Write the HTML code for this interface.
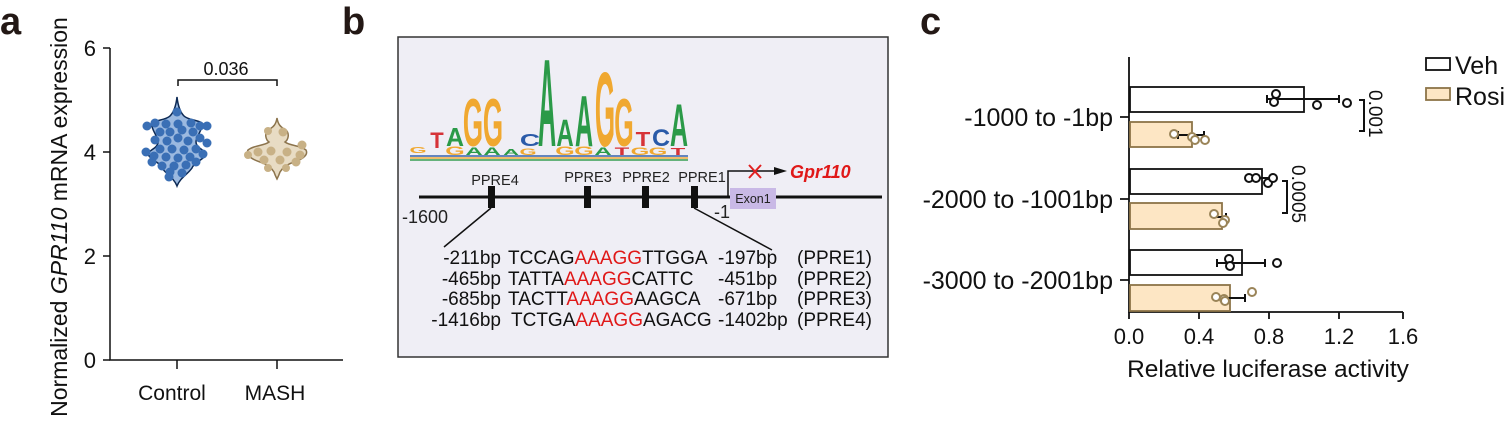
<!DOCTYPE html>
<html><head><meta charset="utf-8"><style>
html,body{margin:0;padding:0;background:#fff;}
svg{display:block;font-family:"Liberation Sans",Arial,sans-serif;}
</style></head><body>
<svg width="1504" height="434" viewBox="0 0 1504 434" xmlns="http://www.w3.org/2000/svg">
<!-- Panel labels -->
<text x="0" y="34" font-size="38" font-weight="bold" fill="#231815">a</text>
<text x="342" y="34" font-size="38" font-weight="bold" fill="#231815">b</text>
<text x="920" y="34" font-size="38" font-weight="bold" fill="#231815">c</text>

<!-- Panel a -->
<text transform="translate(67,217) rotate(-90)" text-anchor="middle" font-size="23" fill="#111">Normalized <tspan font-style="italic">GPR110</tspan> mRNA expression</text>
<g stroke="#111" stroke-width="1.5" fill="none">
<path d="M110,48 V360 H343"/>
<path d="M103,48 H110 M103,152 H110 M103,256 H110 M103,360 H110"/>
<path d="M177,360 V369 M277,360 V369"/>
<path d="M178,86 V80 H277 V86"/>
</g>
<g font-size="22" fill="#111" text-anchor="end">
<text x="96" y="56">6</text><text x="96" y="160">4</text><text x="96" y="264">2</text><text x="96" y="368">0</text>
</g>
<text x="226" y="75" font-size="18" text-anchor="middle" fill="#111">0.036</text>
<text x="172" y="400" font-size="21" text-anchor="middle" fill="#111">Control</text>
<text x="275" y="400" font-size="21" text-anchor="middle" fill="#111">MASH</text>
<!-- Control violin -->
<path d="M177,97 C178,106 180,112 184,116 C188,120 198,120 202,123 C203,130 196,136 196,142 C196,148 205,150 206,154 C204,160 194,162 192,168 C188,174 180,178 177,186 C174,178 166,174 162,168 C160,162 150,160 148,154 C149,150 158,148 158,142 C158,136 151,130 152,123 C156,120 166,120 170,116 C174,112 176,106 177,97Z" fill="#9bb9e0" stroke="#0d2a55" stroke-width="1.5"/>
<g fill="#3a6fb5">
<circle cx="177" cy="112" r="4.5"/><circle cx="147" cy="126" r="4.5"/><circle cx="207" cy="126" r="4.5"/>
<circle cx="155" cy="123" r="4.5"/><circle cx="166" cy="124" r="4.5"/><circle cx="178" cy="124" r="4.5"/><circle cx="191" cy="123" r="4.5"/><circle cx="200" cy="126" r="4.5"/>
<circle cx="160" cy="132" r="4.5"/><circle cx="170" cy="132" r="4.5"/><circle cx="182" cy="130" r="4.5"/><circle cx="193" cy="132" r="4.5"/>
<circle cx="155" cy="140" r="4.5"/><circle cx="167" cy="141" r="4.5"/><circle cx="178" cy="138" r="4.5"/><circle cx="188" cy="141" r="4.5"/><circle cx="200" cy="138" r="4.5"/><circle cx="207" cy="143" r="4.5"/>
<circle cx="160" cy="149" r="4.5"/><circle cx="172" cy="149" r="4.5"/><circle cx="184" cy="150" r="4.5"/><circle cx="196" cy="149" r="4.5"/>
<circle cx="146" cy="152" r="4.5"/><circle cx="154" cy="156" r="4.5"/><circle cx="166" cy="157" r="4.5"/><circle cx="178" cy="158" r="4.5"/><circle cx="190" cy="157" r="4.5"/><circle cx="203" cy="154" r="4.5"/>
<circle cx="152" cy="162" r="4.5"/><circle cx="162" cy="166" r="4.5"/><circle cx="174" cy="166" r="4.5"/><circle cx="186" cy="165" r="4.5"/><circle cx="196" cy="162" r="4.5"/>
<circle cx="170" cy="172" r="4.5"/><circle cx="182" cy="173" r="4.5"/><circle cx="169" cy="177" r="4.5"/>
</g>
<!-- MASH violin -->
<path d="M277,118 C278,124 280,127 286,130 C290,134 288,140 285,142 C290,146 300,145 306,150 C309,156 300,160 294,162 C288,164 283,167 280,172 C279,175 278,177 277,179 C276,177 275,175 274,172 C271,167 266,164 260,162 C254,160 245,156 248,150 C254,145 264,146 269,142 C266,140 264,134 268,130 C274,127 276,124 277,118Z" fill="#e8dcc4" stroke="#8c744d" stroke-width="1.5"/>
<g fill="#c8b186">
<circle cx="283" cy="132" r="4.5"/><circle cx="268" cy="131" r="4"/><circle cx="302" cy="145" r="4.5"/>
<circle cx="258" cy="152" r="4.5"/><circle cx="271" cy="151" r="4.5"/><circle cx="287" cy="152" r="4.5"/><circle cx="300" cy="155" r="4.5"/>
<circle cx="264" cy="160" r="4.5"/><circle cx="280" cy="160" r="4.5"/><circle cx="296" cy="162" r="4.5"/><circle cx="248" cy="155" r="4"/>
<circle cx="268" cy="168" r="4"/><circle cx="286" cy="168" r="4"/>
</g>

<!-- Panel b -->
<rect x="398" y="37" width="490" height="320" fill="#efeef5" stroke="#333" stroke-width="1.5"/>
<!-- sequence logo -->
<g font-weight="bold" text-anchor="middle">
<text transform="translate(437,148) scale(1.1,1.1)" font-size="20" fill="#d63338">T</text>
<text transform="translate(455,146) scale(1.25,1.3)" font-size="20" fill="#2b9a48">A</text>
<text transform="translate(473,146) scale(1.3,3.4)" font-size="20" fill="#f0a830">G</text>
<text transform="translate(493,146) scale(1.3,3.4)" font-size="20" fill="#f0a830">G</text>
<text transform="translate(530,146) scale(1.4,0.9)" font-size="20" fill="#2a5aa8">C</text>
<text transform="translate(547,146) scale(1.25,6.2)" font-size="20" fill="#2b9a48">A</text>
<text transform="translate(565,146) scale(1.2,1.9)" font-size="20" fill="#2b9a48">A</text>
<text transform="translate(584,146) scale(1.25,3.6)" font-size="20" fill="#2b9a48">A</text>
<text transform="translate(605,146) scale(1.3,5.3)" font-size="20" fill="#f0a830">G</text>
<text transform="translate(624,146) scale(1.25,3.4)" font-size="20" fill="#f0a830">G</text>
<text transform="translate(643,146) scale(1.2,1.0)" font-size="20" fill="#d63338">T</text>
<text transform="translate(661,146) scale(1.25,1.2)" font-size="20" fill="#2a5aa8">C</text>
<text transform="translate(679,146) scale(1.25,3.0)" font-size="20" fill="#2b9a48">A</text>
</g>
<g font-weight="bold" text-anchor="middle" font-size="20">
<text transform="translate(418,153) scale(1.1,0.4)" fill="#f0a830">G</text>
<text transform="translate(455,155) scale(1.25,0.6)" fill="#f0a830">G</text>
<text transform="translate(474,155) scale(1.2,0.55)" fill="#2b9a48">A</text>
<text transform="translate(492,155) scale(1.2,0.55)" fill="#2b9a48">A</text>
<text transform="translate(511,155) scale(1.1,0.4)" fill="#2b9a48">A</text>
<text transform="translate(528,155) scale(1.1,0.45)" fill="#f0a830">G</text>
<text transform="translate(565,155) scale(1.25,0.6)" fill="#f0a830">G</text>
<text transform="translate(584,155) scale(1.25,0.6)" fill="#f0a830">G</text>
<text transform="translate(603,155) scale(1.2,0.55)" fill="#2b9a48">A</text>
<text transform="translate(622,155) scale(1.2,0.55)" fill="#d63338">T</text>
<text transform="translate(640,155) scale(1.2,0.55)" fill="#f0a830">G</text>
<text transform="translate(658,155) scale(1.2,0.55)" fill="#f0a830">G</text>
<text transform="translate(678,155) scale(1.2,0.5)" fill="#d63338">T</text>
</g>
<g opacity="0.7">
<rect x="410" y="155" width="278" height="2" fill="#2a5aa8"/>
<rect x="410" y="157" width="278" height="2" fill="#f0a830"/>
<rect x="410" y="159" width="278" height="2" fill="#2b9a48"/>
</g>
<!-- gene line -->
<line x1="419" y1="197" x2="882" y2="197" stroke="#111" stroke-width="3"/>
<g fill="#111">
<rect x="488" y="186" width="7" height="22"/><rect x="584" y="186" width="7" height="22"/>
<rect x="642" y="186" width="7" height="22"/><rect x="691" y="186" width="7" height="22"/>
</g>
<g font-size="14.5" fill="#222" text-anchor="middle">
<text x="495" y="185">PPRE4</text><text x="588" y="182">PPRE3</text><text x="646" y="182">PPRE2</text><text x="702" y="182">PPRE1</text>
</g>
<rect x="730" y="188" width="46" height="21" fill="#c9b9e6"/>
<text x="753" y="203" font-size="12.5" text-anchor="middle" fill="#222">Exon1</text>
<path d="M728,197 V171 H775" stroke="#111" stroke-width="1.5" fill="none"/>
<path d="M787,171 L774,167 L774,175Z" fill="#111"/>
<path d="M749,165 L761,178 M761,165 L749,178" stroke="#e02020" stroke-width="2"/>
<text x="790" y="178" font-size="18" font-weight="bold" font-style="italic" fill="#e01818">Gpr110</text>
<text x="402" y="223" font-size="18" fill="#222">-1600</text>
<text x="714" y="218" font-size="18" fill="#222">-1</text>
<path d="M491,208 L444,247 M694,208 L772,250" stroke="#111" stroke-width="1.5"/>
<g font-size="19" fill="#111">
<text x="501" y="264" text-anchor="end">-211bp</text>
<text x="508" y="264">TCCAG<tspan fill="#e01818">AAAGG</tspan>TTGGA</text>
<text x="718" y="264">-197bp</text><text x="797" y="264">(PPRE1)</text>
<text x="501" y="285" text-anchor="end">-465bp</text>
<text x="508" y="285">TATTA<tspan fill="#e01818">AAAGG</tspan>CATTC</text>
<text x="718" y="285">-451bp</text><text x="797" y="285">(PPRE2)</text>
<text x="501" y="305" text-anchor="end">-685bp</text>
<text x="508" y="305">TACTT<tspan fill="#e01818">AAAGG</tspan>AAGCA</text>
<text x="718" y="305">-671bp</text><text x="797" y="305">(PPRE3)</text>
<text x="501" y="326" text-anchor="end">-1416bp</text>
<text x="511" y="326">TCTGA<tspan fill="#e01818">AAAGG</tspan>AGACG</text>
<text x="718" y="326">-1402bp</text><text x="797" y="326">(PPRE4)</text>
</g>

<!-- Panel c -->
<g stroke="#111" stroke-width="1.8" fill="none">
<path d="M1129,57 V312 H1403"/>
<path d="M1120,117 H1129 M1120,199 H1129 M1120,280 H1129"/>
<path d="M1129,312 V319 M1199,312 V319 M1269,312 V319 M1339,312 V319 M1403,312 V319"/>
</g>
<g stroke-width="1.8">
<rect x="1130" y="87" width="174" height="25" fill="#fff" stroke="#111"/>
<rect x="1130" y="122" width="62" height="25" fill="#fde6c4" stroke="#8c7448"/>
<rect x="1130" y="169" width="132" height="25" fill="#fff" stroke="#111"/>
<rect x="1130" y="203" width="92" height="26" fill="#fde6c4" stroke="#8c7448"/>
<rect x="1130" y="250" width="112" height="25" fill="#fff" stroke="#111"/>
<rect x="1130" y="285" width="100" height="26" fill="#fde6c4" stroke="#8c7448"/>
</g>
<g stroke="#111" stroke-width="2" fill="none">
<path d="M1267,99 H1339 M1267,95 V103 M1339,95 V103"/>
<path d="M1178,135 H1204 M1178,131 V139 M1204,131 V139"/>
<path d="M1250,178 H1270 M1250,174 V182"/>
<path d="M1216,217 H1226 M1226,213 V221"/>
<path d="M1217,263 H1265 M1217,259 V267 M1265,259 V267"/>
<path d="M1214,298 H1245 M1245,294 V302"/>
<path d="M1359,100 H1364 V131 H1359 M1282,181 H1287 V213 H1282"/>
</g>
<g fill="#fff" stroke="#111" stroke-width="2">
<circle cx="1276" cy="94" r="4"/><circle cx="1274" cy="102" r="4"/><circle cx="1317" cy="105" r="4"/><circle cx="1347" cy="103" r="4"/>
<circle cx="1249" cy="178" r="4"/><circle cx="1256" cy="178" r="4"/><circle cx="1268" cy="183" r="4"/><circle cx="1273" cy="178" r="4"/>
<circle cx="1229" cy="259" r="4"/><circle cx="1230" cy="266" r="4"/><circle cx="1277" cy="263" r="4"/>
</g>
<g fill="#fff" stroke="#9a8458" stroke-width="2">
<circle cx="1174" cy="134" r="4"/><circle cx="1192" cy="137" r="4"/><circle cx="1195" cy="140" r="4"/><circle cx="1205" cy="140" r="4"/>
<circle cx="1214" cy="214" r="4"/><circle cx="1225" cy="220" r="4"/><circle cx="1223" cy="223" r="4"/>
<circle cx="1216" cy="297" r="4"/><circle cx="1224" cy="299" r="4"/><circle cx="1225" cy="301" r="4"/><circle cx="1252" cy="292" r="4"/>
</g>
<g font-size="19" fill="#111">
<text transform="translate(1369,90) rotate(90)">0.001</text>
<text transform="translate(1292,165) rotate(90)">0.0005</text>
</g>
<g font-size="25" fill="#111" text-anchor="end">
<text x="1113" y="126">-1000 to -1bp</text>
<text x="1113" y="208">-2000 to -1001bp</text>
<text x="1113" y="289">-3000 to -2001bp</text>
</g>
<g font-size="22" fill="#111" text-anchor="middle">
<text x="1129" y="344">0.0</text><text x="1199" y="344">0.4</text><text x="1269" y="344">0.8</text><text x="1339" y="344">1.2</text><text x="1403" y="344">1.6</text>
</g>
<text x="1268" y="377" font-size="24.5" text-anchor="middle" fill="#111">Relative luciferase activity</text>
<rect x="1426" y="58" width="24" height="12" fill="#fff" stroke="#111" stroke-width="1.8"/>
<text x="1455" y="74" font-size="25" fill="#111">Veh</text>
<rect x="1426" y="88" width="24" height="12" fill="#fde6c4" stroke="#8c7448" stroke-width="1.8"/>
<text x="1455" y="105" font-size="25" fill="#111">Rosi</text>
</svg>
</body></html>
